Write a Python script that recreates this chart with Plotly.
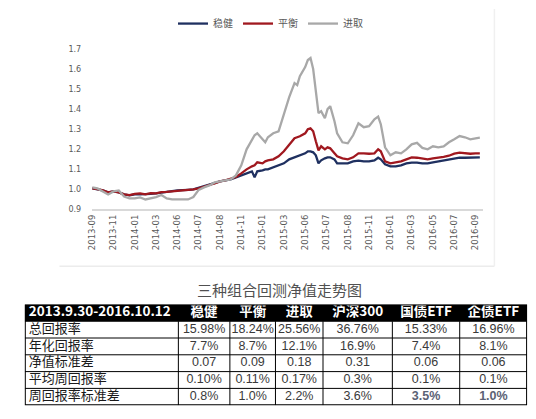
"""三种组合回测净值走势图 + 回测指标表 (Plotly)."""
import plotly.graph_objects as go

W, H = 536, 419

# 交易日序号 (每 40 个交易日一个刻度)
DAYS = [0, 10, 20, 30, 40, 50, 60, 70, 80, 90, 100, 110, 120, 130, 140, 150, 160, 170, 180, 190,
        200, 210, 220, 230, 240, 250, 260, 270, 280, 290, 300, 305, 310, 320, 325, 330, 340, 350,
        360, 370, 380, 385, 390, 400, 405, 410, 415, 420, 425, 430, 437, 442, 447, 455, 460, 470,
        480, 490, 500, 510, 520, 530, 537, 542, 550, 560, 570, 580, 590, 600, 610, 620, 630, 640,
        650, 660, 670, 680, 690, 700, 710, 720, 728]

STEADY = [1.005, 1.000, 0.995, 0.985, 0.990, 0.985, 0.975, 0.970, 0.975, 0.975, 0.975, 0.978,
          0.980, 0.985, 0.990, 0.992, 0.995, 0.995, 0.998, 1.000, 1.008, 1.015, 1.025, 1.030,
          1.040, 1.045, 1.050, 1.060, 1.070, 1.080, 1.090, 1.060, 1.090, 1.095, 1.100, 1.100,
          1.110, 1.120, 1.130, 1.150, 1.160, 1.165, 1.170, 1.180, 1.190, 1.190, 1.185, 1.170,
          1.130, 1.145, 1.155, 1.160, 1.160, 1.150, 1.130, 1.130, 1.130, 1.140, 1.144, 1.140,
          1.140, 1.145, 1.158, 1.150, 1.125, 1.115, 1.115, 1.120, 1.130, 1.134, 1.134, 1.130,
          1.130, 1.135, 1.140, 1.145, 1.150, 1.155, 1.158, 1.158, 1.160, 1.160, 1.160]

BALANCED = [1.005, 1.002, 0.995, 0.985, 0.990, 0.985, 0.975, 0.972, 0.978, 0.980, 0.975, 0.982,
            0.980, 0.987, 0.988, 0.990, 0.992, 0.995, 0.996, 1.000, 1.005, 1.012, 1.022, 1.030,
            1.040, 1.045, 1.052, 1.062, 1.080, 1.100, 1.115, 1.120, 1.135, 1.130, 1.140, 1.145,
            1.150, 1.165, 1.190, 1.225, 1.255, 1.260, 1.265, 1.280, 1.300, 1.305, 1.290, 1.240,
            1.195, 1.215, 1.200, 1.210, 1.205, 1.180, 1.165, 1.155, 1.150, 1.160, 1.180, 1.180,
            1.178, 1.180, 1.200, 1.190, 1.140, 1.130, 1.135, 1.140, 1.150, 1.160, 1.158, 1.155,
            1.150, 1.155, 1.158, 1.162, 1.168, 1.178, 1.183, 1.180, 1.178, 1.180, 1.180]

AGGRESSIVE = [1.010, 1.005, 0.990, 0.975, 0.990, 0.995, 0.965, 0.955, 0.955, 0.960, 0.950, 0.955,
              0.962, 0.972, 0.955, 0.950, 0.950, 0.952, 0.950, 0.962, 0.998, 1.010, 1.020, 1.035,
              1.040, 1.045, 1.050, 1.070, 1.120, 1.200, 1.250, 1.270, 1.280, 1.250, 1.235, 1.260,
              1.280, 1.290, 1.380, 1.460, 1.530, 1.520, 1.565, 1.610, 1.645, 1.655, 1.600, 1.490,
              1.380, 1.390, 1.355, 1.400, 1.415, 1.340, 1.280, 1.235, 1.230, 1.270, 1.330, 1.310,
              1.315, 1.350, 1.363, 1.325, 1.210, 1.170, 1.185, 1.180, 1.200, 1.225, 1.232, 1.207,
              1.200, 1.215, 1.210, 1.215, 1.235, 1.250, 1.266, 1.260, 1.250, 1.255, 1.258]

TICK_DAYS = [0, 40, 80, 120, 160, 200, 240, 280, 320, 360, 400, 440, 480, 520, 560, 600, 640, 680, 720]
TICK_TEXT = ["2013-09", "2013-11", "2014-01", "2014-03", "2014-06", "2014-07", "2014-08",
             "2014-11", "2015-01", "2015-03", "2015-06", "2015-07", "2015-08", "2015-11",
             "2016-01", "2016-03", "2016-05", "2016-07", "2016-09"]

# 表格
HEADER = ["2013.9.30-2016.10.12", "稳健", "平衡", "进取", "沪深300", "国债ETF", "企债ETF"]
ROW_NAMES = ["总回报率", "年化回报率", "净值标准差", "平均周回报率", "周回报率标准差"]
COL_STEADY = ["15.98%", "7.7%", "0.07", "0.10%", "0.8%"]
COL_BALANCED = ["18.24%", "8.7%", "0.09", "0.11%", "1.0%"]
COL_AGGRESSIVE = ["25.56%", "12.1%", "0.18", "0.17%", "2.2%"]
COL_HS300 = ["36.76%", "16.9%", "0.31", "0.3%", "3.6%"]
COL_GOVBOND = ["15.33%", "7.4%", "0.06", "0.1%", "3.5%"]
COL_CORPBOND = ["16.96%", "8.1%", "0.06", "0.1%", "1.0%"]

CJK = "Noto Sans CJK SC"
NUM_FONT = "Liberation Sans Narrow, Liberation Sans, Arial, sans-serif"
COL_WIDTHS = [155, 52, 46, 48, 70, 68, 68]   # 像素宽度 (表格坐标单位)


def px_x(p):
    return p / W


def px_y(p):
    return 1 - p / H


fig = go.Figure()
for name, vals, color in [("稳健", STEADY, "#1f3060"), ("平衡", BALANCED, "#a0181f"),
                          ("进取", AGGRESSIVE, "#a8a8a8")]:
    fig.add_trace(go.Scatter(x=DAYS, y=vals, name=name, mode="lines",
                             line=dict(color=color, width=2.3), hoverinfo="skip"))

# ---- 表格: 放在 x2/y2 坐标系里, 列宽为单位, 行号为单位 ----
edges = [0]
for w in COL_WIDTHS:
    edges.append(edges[-1] + w)
total_w = edges[-1]
n_rows = len(ROW_NAMES) + 1
centers = [(edges[i] + edges[i + 1]) / 2 for i in range(len(COL_WIDTHS))]
text_x = [edges[0] + 4] + centers[1:]

fig.add_trace(go.Scatter(
    x=text_x, y=[0.5] * len(HEADER), text=[f"<b>{h}</b>" for h in HEADER],
    mode="text", textposition=["middle right"] + ["middle center"] * 6,
    textfont=dict(family=CJK, size=13.5, color="#ffffff"),
    xaxis="x2", yaxis="y2", showlegend=False, hoverinfo="skip"))

body_cols = [ROW_NAMES, COL_STEADY, COL_BALANCED, COL_AGGRESSIVE, COL_HS300, COL_GOVBOND, COL_CORPBOND]
n_body = len(ROW_NAMES)
for j, col in enumerate(body_cols):
    first = j == 0
    # 国债/企债 的最后一格是贴图样式 (加粗、偏灰蓝)
    pasted = j >= 5
    colors = ["#1a1a1a" if first else "#3a3a3a"] * n_body
    texts = list(col)
    if pasted:
        colors[-1] = "#5b6275"
        texts[-1] = f"<b>{texts[-1]}</b>"
    fig.add_trace(go.Scatter(
        x=[text_x[j]] * n_body, y=[r + 1.5 for r in range(n_body)], text=texts,
        mode="text", textposition="middle right" if first else "middle center",
        textfont=dict(family=CJK if first else NUM_FONT, size=13 if first else 12.5, color=colors),
        xaxis="x2", yaxis="y2", showlegend=False, hoverinfo="skip"))

shapes = [
    # 图表外框 (浅灰)
    dict(type="line", xref="paper", yref="paper", x0=px_x(55), x1=px_x(494), y0=px_y(268), y1=px_y(268),
         line=dict(color="#ececec", width=1.5)),
    dict(type="line", xref="paper", yref="paper", x0=px_x(494), x1=px_x(494), y0=px_y(5), y1=px_y(268),
         line=dict(color="#f0f0f0", width=1.5)),
    # 表头黑底
    dict(type="rect", xref="x2", yref="y2", x0=0, x1=total_w, y0=0, y1=1,
         fillcolor="#000000", line=dict(width=0), layer="below"),
]
for r in range(1, n_rows):
    shapes.append(dict(type="line", xref="x2", yref="y2", x0=0, x1=total_w, y0=r, y1=r,
                       line=dict(color="#000000", width=1)))
for e in edges[1:-1]:
    shapes.append(dict(type="line", xref="x2", yref="y2", x0=e, x1=e, y0=1, y1=n_rows,
                       line=dict(color="#000000", width=1)))
shapes.append(dict(type="rect", xref="x2", yref="y2", x0=0, x1=total_w, y0=0, y1=n_rows,
                   line=dict(color="#000000", width=2)))

fig.update_layout(
    width=W, height=H, autosize=False,
    margin=dict(l=0, r=0, t=0, b=0),
    paper_bgcolor="#ffffff", plot_bgcolor="#ffffff",
    font=dict(family=CJK, color="#595959"),
    xaxis=dict(domain=[px_x(88), px_x(482)], range=[0, 733],
               tickvals=TICK_DAYS, ticktext=TICK_TEXT, tickangle=-90,
               tickfont=dict(size=8.5, color="#595959", family="DejaVu Sans"),
               showgrid=False, zeroline=False, showline=True, linecolor="#d9d9d9", linewidth=1.5,
               ticks="", fixedrange=True),
    yaxis=dict(domain=[px_y(210), px_y(46)], range=[0.9, 1.7], dtick=0.1, tickformat=".1f",
               tickfont=dict(size=8, color="#595959", family="DejaVu Sans"),
               showgrid=False, zeroline=False, showline=False, ticks="", ticklabelstandoff=10,
               fixedrange=True),
    xaxis2=dict(domain=[px_x(20), px_x(527)], range=[0, total_w], visible=False, fixedrange=True,
                anchor="y2"),
    yaxis2=dict(domain=[px_y(410), px_y(307)], range=[n_rows, 0], visible=False, fixedrange=True,
                anchor="x2"),
    showlegend=True,
    legend=dict(orientation="h", x=0.5, xanchor="center", y=px_y(20), yanchor="middle",
                font=dict(size=10, color="#595959", family=CJK),
                bgcolor="rgba(0,0,0,0)"),
    annotations=[dict(text="三种组合回测净值走势图", x=px_x(277), y=px_y(292), xref="paper", yref="paper",
                      xanchor="center", yanchor="middle", showarrow=False,
                      font=dict(size=15, color="#505050", family=CJK))],
    shapes=shapes,
)

# 去掉页面默认 8px 边距, 让图形贴齐窗口左上角
fig.write_html("out.html", config={"displayModeBar": False},
               post_script="document.body.style.margin='0px';")
